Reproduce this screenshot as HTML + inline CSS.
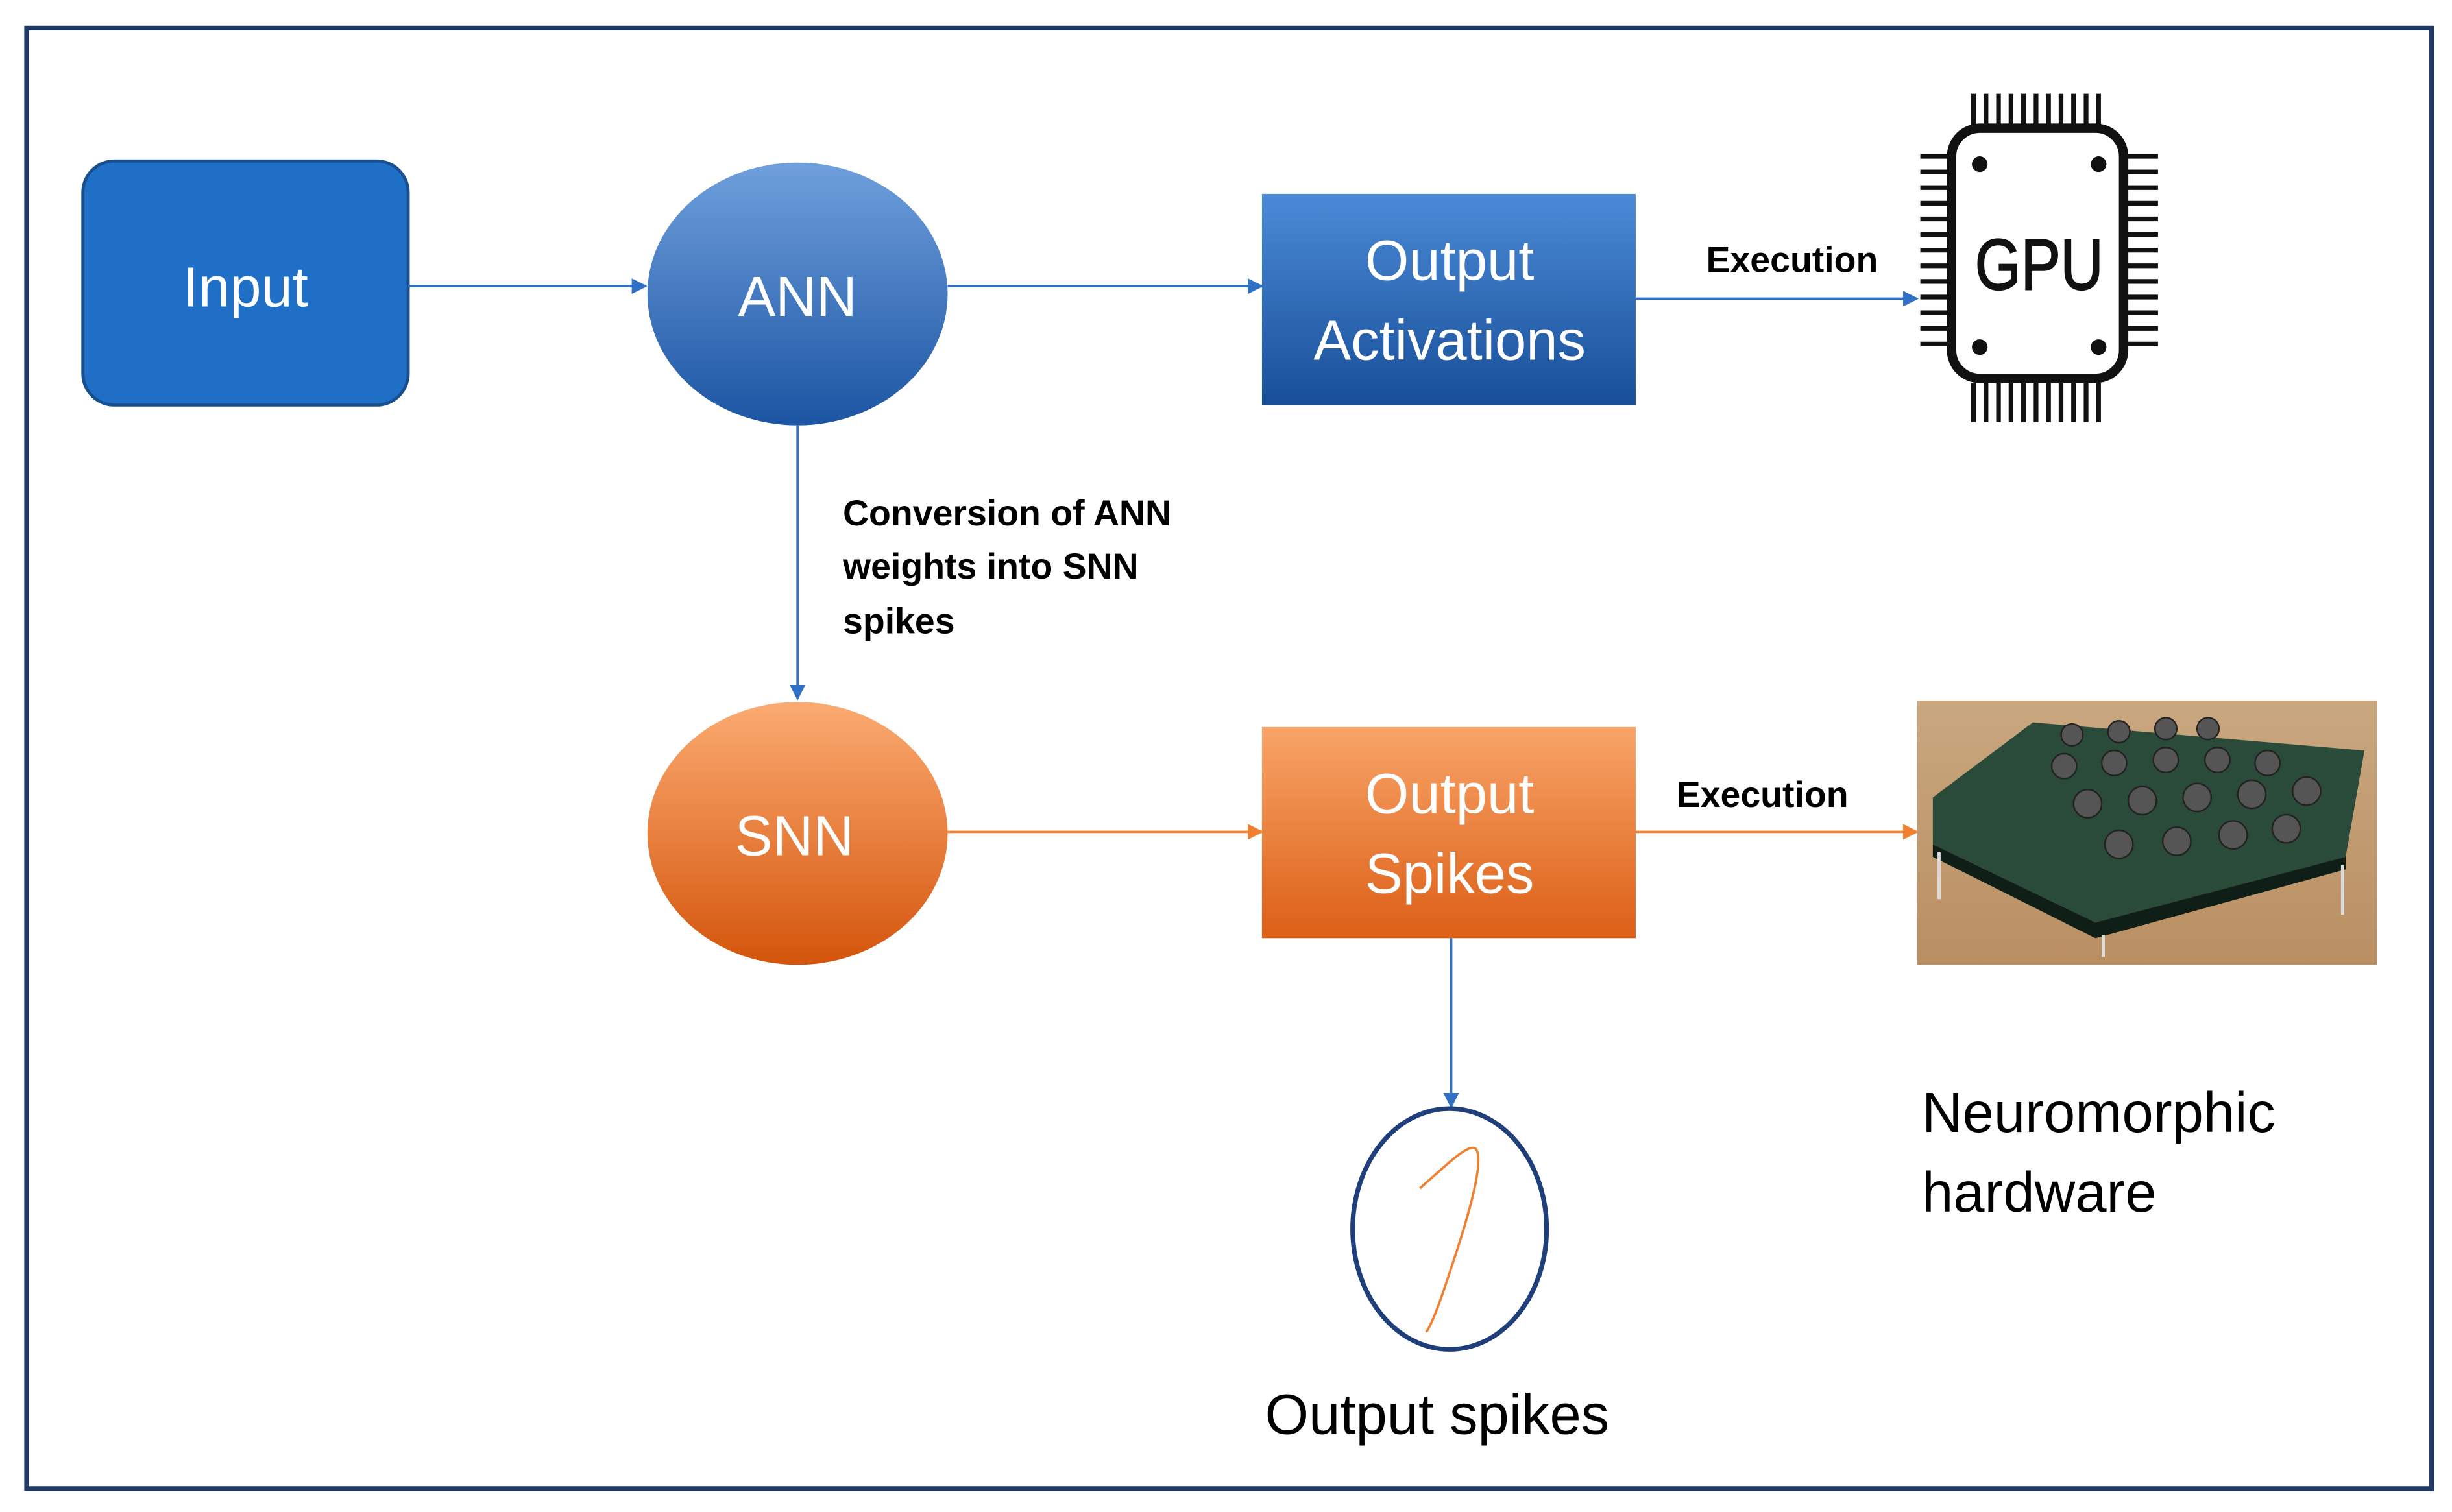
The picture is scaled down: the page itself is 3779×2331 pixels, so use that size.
<!DOCTYPE html>
<html><head><meta charset="utf-8"><style>
html,body{margin:0;padding:0;background:#fff;}
svg{display:block;}
text{font-family:"Liberation Sans",sans-serif;}
</style></head><body>
<svg width="3779" height="2331" viewBox="0 0 1568 967" preserveAspectRatio="none" xmlns="http://www.w3.org/2000/svg">
<defs>
<linearGradient id="gb" x1="0" y1="0" x2="0" y2="1"><stop offset="0" stop-color="#6f9fdc"/><stop offset="1" stop-color="#1c55a3"/></linearGradient>
<linearGradient id="gb2" x1="0" y1="0" x2="0" y2="1"><stop offset="0" stop-color="#4b8bd7"/><stop offset="1" stop-color="#184e98"/></linearGradient>
<linearGradient id="go" x1="0" y1="0" x2="0" y2="1"><stop offset="0" stop-color="#fbab72"/><stop offset="1" stop-color="#d4550c"/></linearGradient>
<linearGradient id="go2" x1="0" y1="0" x2="0" y2="1"><stop offset="0" stop-color="#f8a468"/><stop offset="1" stop-color="#dc5f16"/></linearGradient>
<linearGradient id="tan" x1="0" y1="0" x2="0" y2="1"><stop offset="0" stop-color="#c9a77f"/><stop offset="1" stop-color="#b98f62"/></linearGradient>
<marker id="ab" markerWidth="10" markerHeight="10" refX="9" refY="5" orient="auto" markerUnits="userSpaceOnUse"><path d="M0,0 L10,5 L0,10 z" fill="#2f6fc4"/></marker>
<marker id="ao" markerWidth="10" markerHeight="10" refX="9" refY="5" orient="auto" markerUnits="userSpaceOnUse"><path d="M0,0 L10,5 L0,10 z" fill="#f07f2f"/></marker>
</defs>
<rect x="17" y="18" width="1538" height="934" fill="#fff" stroke="#1f3864" stroke-width="3"/>

<rect x="53" y="103" width="208" height="156" rx="20" fill="#1f6fc6" stroke="#1a4f8f" stroke-width="2"/>
<text x="157" y="196" font-size="36" fill="#fff" text-anchor="middle">Input</text>

<line x1="261" y1="183" x2="413" y2="183" stroke="#2f6fc4" stroke-width="1.5" marker-end="url(#ab)"/>
<ellipse cx="510" cy="188" rx="96" ry="84" fill="url(#gb)"/>
<text x="510" y="202" font-size="36" fill="#fff" text-anchor="middle">ANN</text>

<line x1="606" y1="183" x2="807" y2="183" stroke="#2f6fc4" stroke-width="1.5" marker-end="url(#ab)"/>
<rect x="807" y="124" width="239" height="135" fill="url(#gb2)"/>
<text x="927" y="179" font-size="36" fill="#fff" text-anchor="middle">Output</text>
<text x="927" y="230" font-size="36" fill="#fff" text-anchor="middle">Activations</text>

<line x1="1046" y1="191" x2="1226" y2="191" stroke="#2f6fc4" stroke-width="1.5" marker-end="url(#ab)"/>
<text x="1146" y="174" font-size="23" font-weight="bold" fill="#000" text-anchor="middle">Execution</text>

<!-- GPU chip -->
<g stroke="#111" fill="none">
<rect x="1248" y="82" width="110" height="160" rx="18" stroke-width="6"/>
<g stroke-width="3">
<path d="M1262 60v20M1270 60v20M1278 60v20M1286 60v20M1294 60v20M1302 60v20M1310 60v20M1318 60v20M1326 60v20M1334 60v20M1342 60v20"/>
<path d="M1262 245v25M1270 245v25M1278 245v25M1286 245v25M1294 245v25M1302 245v25M1310 245v25M1318 245v25M1326 245v25M1334 245v25M1342 245v25"/>
<path d="M1228 100h18M1228 110h18M1228 120h18M1228 130h18M1228 140h18M1228 150h18M1228 160h18M1228 170h18M1228 180h18M1228 190h18M1228 200h18M1228 210h18M1228 220h18"/>
<path d="M1360 100h20M1360 110h20M1360 120h20M1360 130h20M1360 140h20M1360 150h20M1360 160h20M1360 170h20M1360 180h20M1360 190h20M1360 200h20M1360 210h20M1360 220h20"/>
</g></g>
<circle cx="1266" cy="105" r="5" fill="#111"/><circle cx="1342" cy="105" r="5" fill="#111"/>
<circle cx="1266" cy="222" r="5" fill="#111"/><circle cx="1342" cy="222" r="5" fill="#111"/>
<text x="1304" y="185" font-size="46" fill="#111" text-anchor="middle" textLength="82" lengthAdjust="spacingAndGlyphs" stroke="#111" stroke-width="1">GPU</text>

<line x1="510" y1="272" x2="510" y2="447" stroke="#2f6fc4" stroke-width="1.5" marker-end="url(#ab)"/>
<text font-size="23" font-weight="bold" fill="#000"><tspan x="539" y="336">Conversion of ANN</tspan><tspan x="539" y="370">weights into SNN</tspan><tspan x="539" y="405">spikes</tspan></text>

<ellipse cx="510" cy="533" rx="96" ry="84" fill="url(#go)"/>
<text x="508" y="547" font-size="36" fill="#fff" text-anchor="middle">SNN</text>

<line x1="606" y1="532" x2="807" y2="532" stroke="#f07f2f" stroke-width="1.5" marker-end="url(#ao)"/>
<rect x="807" y="465" width="239" height="135" fill="url(#go2)"/>
<text x="927" y="520" font-size="36" fill="#fff" text-anchor="middle">Output</text>
<text x="927" y="571" font-size="36" fill="#fff" text-anchor="middle">Spikes</text>

<line x1="1046" y1="532" x2="1226" y2="532" stroke="#f07f2f" stroke-width="1.5" marker-end="url(#ao)"/>
<text x="1127" y="516" font-size="23" font-weight="bold" fill="#000" text-anchor="middle">Execution</text>

<!-- board photo -->
<rect x="1226" y="448" width="294" height="169" fill="url(#tan)"/>
<polygon points="1236,510 1300,462 1512,480 1500,548 1340,590 1236,540" fill="#2a4a3a"/>
<polygon points="1236,540 1340,590 1500,548 1500,556 1340,600 1236,548" fill="#0f1f17"/>
<g fill="#555" stroke="#222" stroke-width="1">
<circle cx="1325" cy="470" r="7"/><circle cx="1355" cy="468" r="7"/><circle cx="1385" cy="466" r="7"/><circle cx="1412" cy="466" r="7"/>
<circle cx="1320" cy="490" r="8"/><circle cx="1352" cy="488" r="8"/><circle cx="1385" cy="486" r="8"/><circle cx="1418" cy="486" r="8"/><circle cx="1450" cy="488" r="8"/>
<circle cx="1335" cy="514" r="9"/><circle cx="1370" cy="512" r="9"/><circle cx="1405" cy="510" r="9"/><circle cx="1440" cy="508" r="9"/><circle cx="1475" cy="506" r="9"/>
<circle cx="1355" cy="540" r="9"/><circle cx="1392" cy="538" r="9"/><circle cx="1428" cy="534" r="9"/><circle cx="1462" cy="530" r="9"/>
</g>
<g stroke="#ddd" stroke-width="2"><line x1="1240" y1="545" x2="1240" y2="575"/><line x1="1345" y1="598" x2="1345" y2="612"/><line x1="1498" y1="553" x2="1498" y2="585"/></g>

<line x1="928" y1="600" x2="928" y2="708" stroke="#2f6fc4" stroke-width="1.5" marker-end="url(#ab)"/>
<ellipse cx="927" cy="786" rx="62" ry="77" fill="#fff" stroke="#1f3f7a" stroke-width="3"/>
<path d="M908 760 C925 745 940 730 944 735 C950 745 935 790 925 820 C920 835 915 848 912 852" fill="none" stroke="#f07f2f" stroke-width="1.5"/>
<text x="919" y="917" font-size="36" fill="#000" text-anchor="middle">Output spikes</text>

<text x="1229" y="724" font-size="36" fill="#000">Neuromorphic</text>
<text x="1229" y="775" font-size="36" fill="#000">hardware</text>
</svg>
</body></html>
